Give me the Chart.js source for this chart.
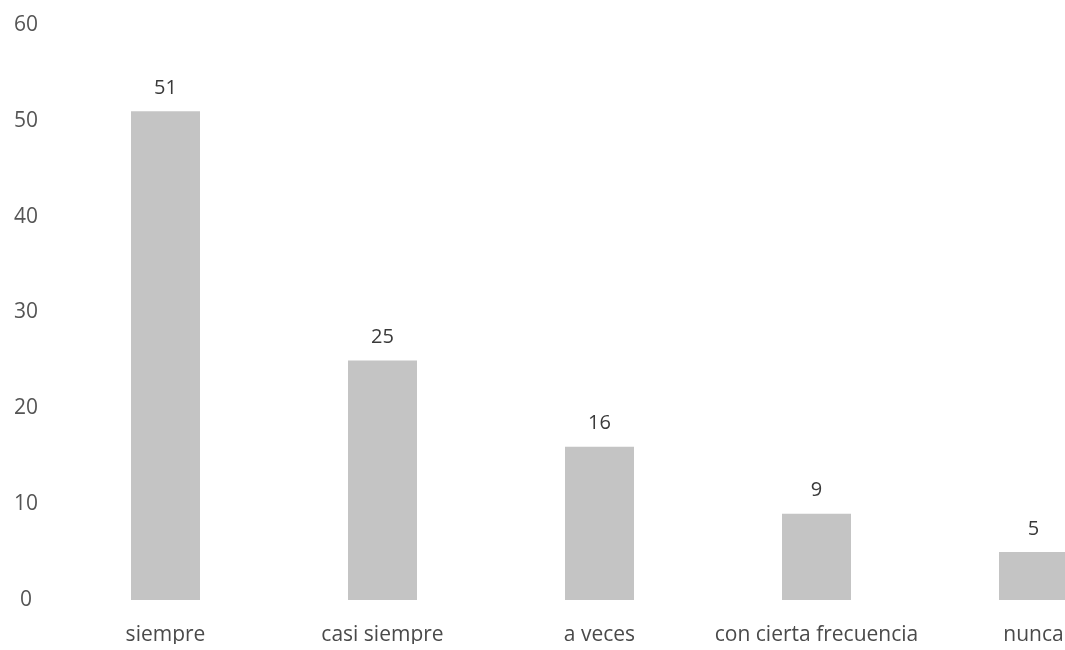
<!DOCTYPE html>
<html>
<head>
<meta charset="utf-8">
<script src="https://cdn.jsdelivr.net/npm/chart.js@4"></script>
<style>
    html, body { margin: 0; padding: 0; background: #fff; overflow: hidden; }
    #wrap { width: 1142px; height: 650px; position: relative; }
</style>
</head>
<body>
<div id="wrap"><canvas id="chart"></canvas></div>
<script>
// chart values
const categories = ['siempre', 'casi siempre', 'a veces', 'con cierta frecuencia', 'nunca'];
const counts = [51, 25, 16, 9, 5];
const yTicks = [0, 10, 20, 30, 40, 50, 60];

const FONT = '"Open Sans", "Noto Sans", sans-serif';

// draws the number above each bar
const valueLabels = {
    id: 'valueLabels',
    afterDatasetsDraw(chart) {
        const ctx = chart.ctx;
        const meta = chart.getDatasetMeta(0);
        ctx.save();
        ctx.font = '20px ' + FONT;
        ctx.fillStyle = '#3a3a3a';
        ctx.textAlign = 'center';
        ctx.textBaseline = 'bottom';
        meta.data.forEach(function (bar, i) {
            ctx.fillText(String(counts[i]), bar.x, bar.y - 13);
        });
        ctx.restore();
    }
};

document.addEventListener('DOMContentLoaded', function () {
    new Chart(document.getElementById('chart'), {
        type: 'bar',
        data: {
            labels: categories,
            datasets: [{
                data: counts,
                backgroundColor: '#c4c4c4',
                borderWidth: 0,
                categoryPercentage: 1,
                barPercentage: 0.318
            }]
        },
        options: {
            responsive: true,
            maintainAspectRatio: false,
            animation: false,
            layout: { padding: { top: 25, right: 0, bottom: 6, left: 0 } },
            plugins: {
                legend: { display: false },
                tooltip: { enabled: false }
            },
            scales: {
                x: {
                    grid: { display: false, drawTicks: false },
                    border: { display: false },
                    afterFit: function (axis) { axis.height = 44; },
                    ticks: {
                        color: '#4a4a4a',
                        padding: 22,
                        maxRotation: 0,
                        autoSkip: false,
                        font: { family: FONT, size: 21 }
                    }
                },
                y: {
                    min: 0,
                    max: 60,
                    grid: { display: false, drawTicks: false },
                    border: { display: false },
                    afterFit: function (axis) {
                        axis.width = 57;
                        axis.paddingTop = 0;
                        axis.paddingBottom = 0;
                    },
                    afterBuildTicks: function (axis) {
                        axis.ticks = yTicks.map(function (v) { return { value: v }; });
                    },
                    ticks: {
                        color: '#555555',
                        padding: 19,
                        crossAlign: 'center',
                        font: { family: FONT, size: 21 }
                    }
                }
            }
        },
        plugins: [valueLabels]
    });
});
</script>
</body>
</html>
